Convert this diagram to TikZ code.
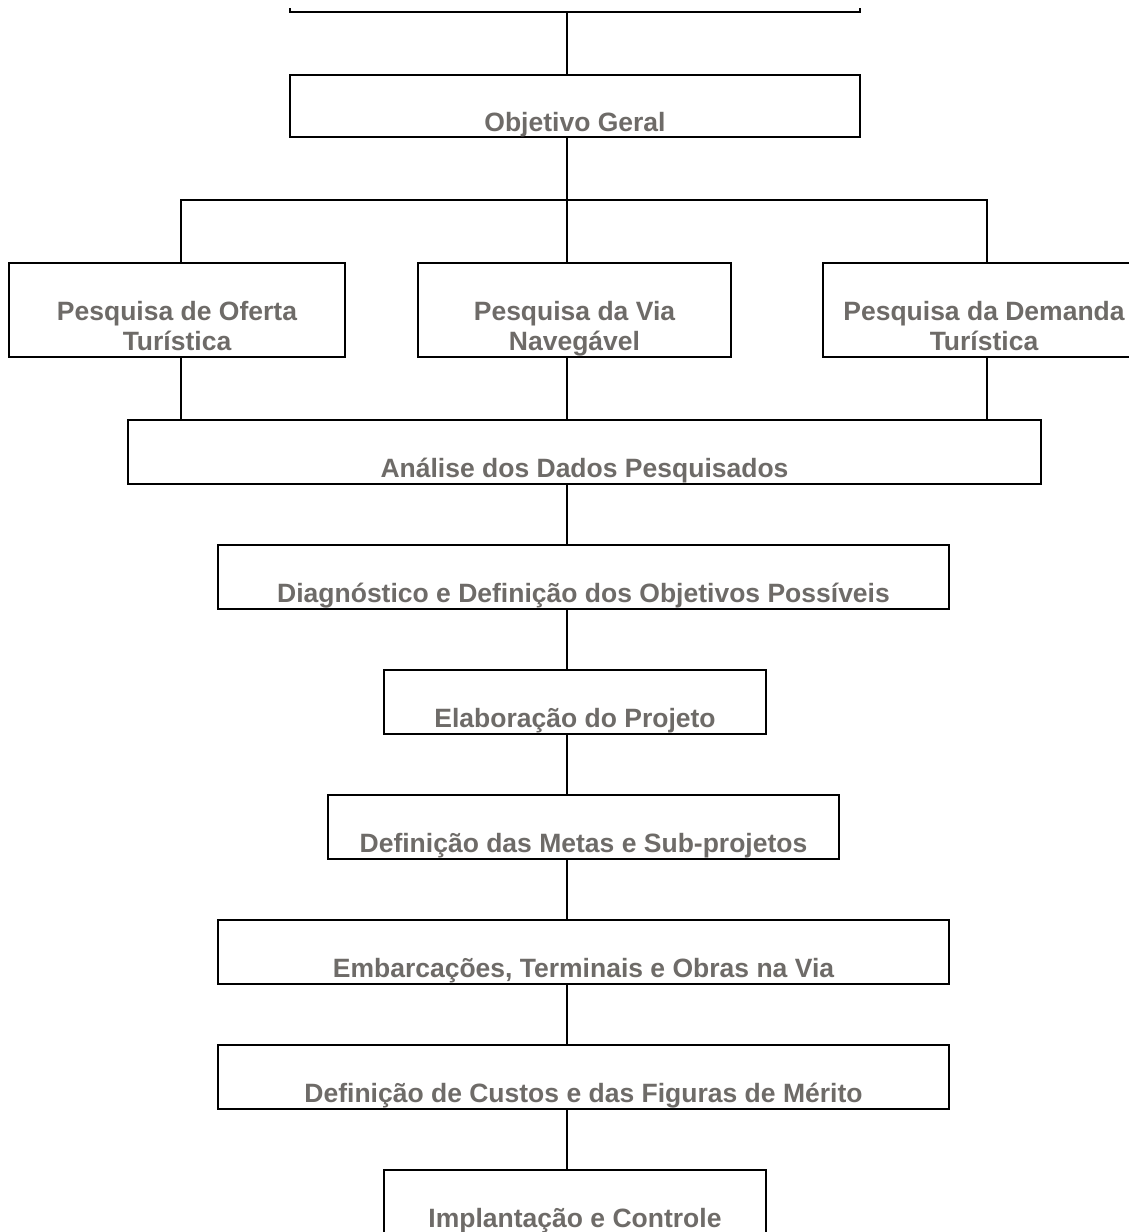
\documentclass[tikz,border=0pt]{standalone}
\usepackage{fontspec}
\setmainfont{Liberation Sans}
\definecolor{txtgray}{RGB}{110,107,104}
\begin{document}
\begin{tikzpicture}[x=1pt,y=-1pt,
  box/.style={draw=black, line width=1.8pt, rectangle, inner sep=0pt},
  conn/.style={draw=black, line width=2.4pt},
  lbl/.style={text=txtgray, font=\fontsize{26.5}{30}\selectfont\bfseries, inner sep=0pt, anchor=base}]
\useasboundingbox (0,0) rectangle (1129,1232);
% partial box at top (only its bottom edge is visible)
\coordinate (topl) at (290,12);
\coordinate (topr) at (860,12);
\coordinate (top) at (567,12);
\draw[line width=1.8pt] ([yshift=4pt]topl) -- (topl) -- (topr) -- ([yshift=4pt]topr);
% boxes
\node[box, minimum width=570pt, minimum height=62pt] (obj) at (575,106) {};
\node[box, minimum width=336pt, minimum height=94pt] (p1) at (177,310) {};
\node[box, minimum width=313pt, minimum height=94pt] (p2) at (574.5,310) {};
\node[box, minimum width=322pt, minimum height=94pt] (p3) at (984,310) {};
\node[box, minimum width=913pt, minimum height=64pt] (an) at (584.5,452) {};
\node[box, minimum width=731pt, minimum height=64pt] (dg) at (583.5,577) {};
\node[box, minimum width=382pt, minimum height=64pt] (el) at (575,702) {};
\node[box, minimum width=511pt, minimum height=64pt] (mt) at (583.5,827) {};
\node[box, minimum width=731pt, minimum height=64pt] (em) at (583.5,952) {};
\node[box, minimum width=731pt, minimum height=64pt] (cu) at (583.5,1077) {};
\node[box, minimum width=382pt, minimum height=64pt] (im) at (575,1202) {};
% labels
\node[lbl] (objt) at ([yshift=6pt]obj.south) {Objetivo Geral};
\node[lbl] (p1a) at ([yshift=37pt]p1.south) {Pesquisa de Oferta};
\node[lbl] (p1b) at ([yshift=7pt]p1.south) {Turística};
\node[lbl] (p2a) at ([yshift=37pt]p2.south) {Pesquisa da Via};
\node[lbl] (p2b) at ([yshift=7pt]p2.south) {Navegável};
\node[lbl] (p3a) at ([yshift=37pt]p3.south) {Pesquisa da Demanda};
\node[lbl] (p3b) at ([yshift=7pt]p3.south) {Turística};
\node[lbl] (ant) at ([yshift=7pt]an.south) {Análise dos Dados Pesquisados};
\node[lbl] (dgt) at ([yshift=7pt]dg.south) {Diagnóstico e Definição dos Objetivos Possíveis};
\node[lbl] (elt) at ([yshift=7pt]el.south) {Elaboração do Projeto};
\node[lbl] (mtt) at ([yshift=7pt]mt.south) {Definição das Metas e Sub-projetos};
\node[lbl] (emt) at ([yshift=7pt]em.south) {Embarcações, Terminais e Obras na Via};
\node[lbl] (cut) at ([yshift=7pt]cu.south) {Definição de Custos e das Figuras de Mérito};
\node[lbl] (imt) at ([yshift=7pt]im.south) {Implantação e Controle};
% connector guides
\coordinate (sp) at (567,0);
\coordinate (lf) at (181,0);
\coordinate (rt) at (987,0);
\coordinate (bar) at (0,200);
% connectors
\draw[conn] (top) -- (obj.north -| sp);
\draw[conn] (obj.south -| sp) -- (p2.north -| sp);
\draw[conn] (p1.north -| lf) -- (bar -| lf) -- (bar -| rt) -- (p3.north -| rt);
\draw[conn] (p1.south -| lf) -- (an.north -| lf);
\draw[conn] (p2.south -| sp) -- (an.north -| sp);
\draw[conn] (p3.south -| rt) -- (an.north -| rt);
\draw[conn] (an.south -| sp) -- (dg.north -| sp);
\draw[conn] (dg.south -| sp) -- (el.north -| sp);
\draw[conn] (el.south -| sp) -- (mt.north -| sp);
\draw[conn] (mt.south -| sp) -- (em.north -| sp);
\draw[conn] (em.south -| sp) -- (cu.north -| sp);
\draw[conn] (cu.south -| sp) -- (im.north -| sp);
\end{tikzpicture}
\end{document}
